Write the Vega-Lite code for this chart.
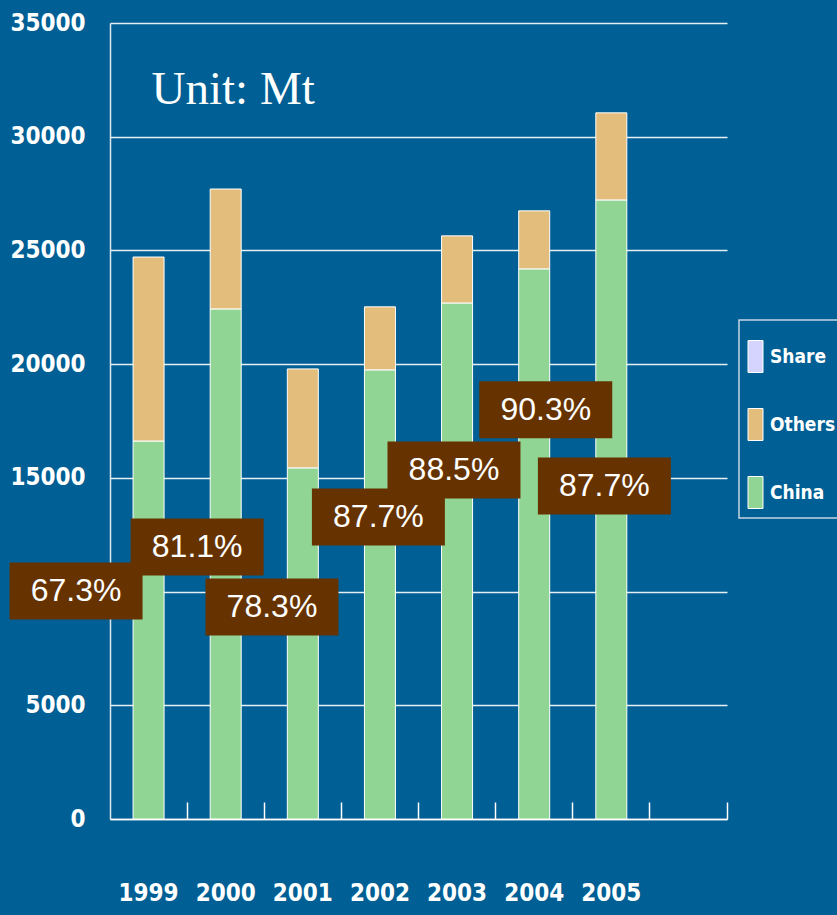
{
  "$schema": "https://vega.github.io/schema/vega-lite/v6.json",
  "width": 617,
  "height": 796,
  "autosize": "none",
  "padding": {"left": 110, "top": 23, "right": 110, "bottom": 96},
  "background": "#005f94",
  "config": {
    "view": {"stroke": null},
    "legend": {
      "orient": "none",
      "legendX": 629,
      "legendY": 297,
      "direction": "vertical",
      "strokeColor": "#c5d5e4",
      "strokeWidth": 1.5,
      "padding": 7,
      "rowPadding": 31,
      "titleFont": "DejaVu Sans Condensed, sans-serif",
      "titleFontSize": 14,
      "titlePadding": 6,
      "labelFont": "DejaVu Sans Condensed, sans-serif",
      "labelFontSize": 19,
      "labelFontWeight": "bold",
      "labelColor": "white",
      "labelOffset": 5,
      "symbolType": "M-1,-2.133H1V2.133H-1Z",
      "symbolSize": 225,
      "symbolStrokeColor": "white",
      "symbolStrokeWidth": 1,
      "symbolOpacity": 1
    }
  },
  "datasets": {
    "tonnage": [
      {"year": "1999", "series": "China", "value": 16620},
      {"year": "1999", "series": "Others", "value": 8090},
      {"year": "2000", "series": "China", "value": 22430},
      {"year": "2000", "series": "Others", "value": 5270},
      {"year": "2001", "series": "China", "value": 15440},
      {"year": "2001", "series": "Others", "value": 4350},
      {"year": "2002", "series": "China", "value": 19750},
      {"year": "2002", "series": "Others", "value": 2770},
      {"year": "2003", "series": "China", "value": 22690},
      {"year": "2003", "series": "Others", "value": 2950},
      {"year": "2004", "series": "China", "value": 24190},
      {"year": "2004", "series": "Others", "value": 2550},
      {"year": "2005", "series": "China", "value": 27220},
      {"year": "2005", "series": "Others", "value": 3830}
    ],
    "share": [
      {"year": "1999", "share": "67.3%", "shift": -0.94, "labelY": 10030},
      {"year": "2000", "share": "81.1%", "shift": -0.37, "labelY": 11960},
      {"year": "2001", "share": "78.3%", "shift": -0.40, "labelY": 9320},
      {"year": "2002", "share": "87.7%", "shift": -0.02, "labelY": 13280},
      {"year": "2003", "share": "88.5%", "shift": -0.04, "labelY": 15350},
      {"year": "2004", "share": "90.3%", "shift": 0.15, "labelY": 17990},
      {"year": "2005", "share": "87.7%", "shift": -0.09, "labelY": 14640}
    ]
  },
  "layer": [
    {
      "data": {"name": "tonnage"},
      "mark": {"type": "bar", "width": 31, "stroke": "white", "strokeWidth": 1},
      "encoding": {
        "x": {
          "field": "year",
          "type": "ordinal",
          "scale": {"domain": ["1999", "2000", "2001", "2002", "2003", "2004", "2005", ""], "paddingInner": 0, "paddingOuter": 0},
          "axis": {
            "orient": "bottom",
            "title": null,
            "labelAngle": 0,
            "ticks": false,
            "domain": true,
            "domainColor": "white",
            "domainWidth": 1.5,
            "grid": false,
            "labelFont": "DejaVu Sans Condensed, sans-serif",
            "labelFontSize": 24,
            "labelFontWeight": "bold",
            "labelColor": "white",
            "labelPadding": 62
          }
        },
        "y": {
          "field": "value",
          "type": "quantitative",
          "stack": "zero",
          "scale": {"domain": [0, 35000]},
          "axis": {
            "title": null,
            "values": [0, 5000, 10000, 15000, 20000, 25000, 30000, 35000],
            "format": "d",
            "labelExpr": "datum.value == 10000 ? '' : datum.label",
            "ticks": false,
            "domain": true,
            "domainColor": "#dde7f0",
            "domainWidth": 1.5,
            "grid": true,
            "gridColor": "white",
            "gridOpacity": 0.9,
            "gridWidth": 1.5,
            "labelFont": "DejaVu Sans Condensed, sans-serif",
            "labelFontSize": 24,
            "labelFontWeight": "bold",
            "labelColor": "white",
            "labelPadding": 25
          }
        },
        "color": {
          "field": "series",
          "type": "nominal",
          "scale": {"domain": ["Share", "Others", "China"], "range": ["#d4d4ff", "#e3bd7c", "#91d594"]},
          "legend": {"title": " "}
        },
        "order": {"field": "series", "sort": "ascending"}
      }
    },
    {
      "data": {"name": "share"},
      "mark": {"type": "point", "shape": "M-2.333,-1H2.333V1H-2.333Z", "size": 3249, "filled": true, "color": "#663300", "opacity": 1, "strokeWidth": 0, "clip": false},
      "encoding": {
        "x": {
          "field": "year",
          "type": "ordinal",
          "axis": {
            "orient": "bottom",
            "title": null,
            "labels": false,
            "domain": false,
            "grid": false,
            "ticks": true,
            "bandPosition": 1,
            "tickSize": -17,
            "tickColor": "white",
            "tickWidth": 1.5
          }
        },
        "xOffset": {"field": "shift", "type": "quantitative", "scale": {"domain": [-1, 1], "range": [-38.5625, 115.6875]}},
        "y": {"field": "labelY", "type": "quantitative", "axis": null}
      }
    },
    {
      "data": {"name": "share"},
      "mark": {"type": "text", "font": "Liberation Sans, Arial, sans-serif", "fontSize": 32, "color": "white", "align": "center", "baseline": "middle", "clip": false},
      "encoding": {
        "x": {"field": "year", "type": "ordinal", "axis": null},
        "xOffset": {"field": "shift", "type": "quantitative", "scale": {"domain": [-1, 1], "range": [-38.5625, 115.6875]}},
        "y": {"field": "labelY", "type": "quantitative", "axis": null},
        "text": {"field": "share"}
      }
    },
    {
      "data": {"values": [{"note": "Unit: Mt"}]},
      "mark": {"type": "text", "font": "Liberation Serif, Times New Roman, serif", "fontSize": 47, "color": "white", "align": "left", "baseline": "alphabetic", "dx": 3},
      "encoding": {
        "x": {"datum": "1999", "axis": null},
        "y": {"datum": 31440, "axis": null},
        "text": {"field": "note"}
      }
    }
  ],
  "resolve": {"axis": {"x": "independent", "y": "independent"}}
}
